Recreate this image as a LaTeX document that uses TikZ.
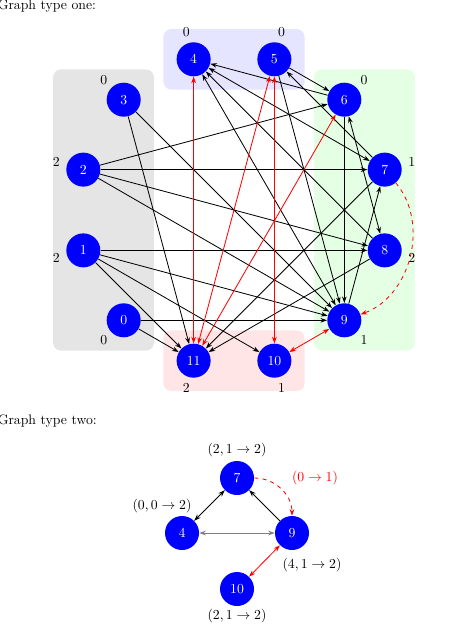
\documentclass[tikz,border=0pt]{standalone}
\usetikzlibrary{arrows.meta,fit,backgrounds}
\begin{document}
\begin{tikzpicture}[x=0.7278pt,y=0.7278pt,
  >={Stealth[length=4.8pt,width=3.4pt]},
  vtx/.style={circle,fill=blue,text=white,minimum size=24.75pt,inner sep=0pt},
  lbl/.style={inner sep=0pt},
  grp/.style={rounded corners=5.8pt,inner sep=9.46pt,draw=none},
  edge/.style={line width=0.6pt,black},
  redge/.style={line width=0.6pt,red},
  txt/.style={anchor=base west,inner sep=0pt}]
\useasboundingbox (0,0) rectangle (474,-629);
\node[txt] (t1) at (-2.5,-10) {Graph type one:};
\node[txt] (t2) at (-2.5,-424) {Graph type two:};
% graph one
\foreach \k/\l in {0/0,1/2,2/2,3/0,4/0,5/0,6/0,7/1,8/2,9/1,10/1,11/2} {
  \node[vtx] (n\k) at ({234+156*cos(225-30*\k)},{-210+156*sin(225-30*\k)}) {\k};
  \node[lbl] (l\k) at ({234+184*cos(225-30*\k)},{-210+184*sin(225-30*\k)}) {\l};
}
\begin{scope}[on background layer]
  \node[grp,fill=black!10,fit=(n0)(n1)(n2)(n3)] (g0) {};
  \node[grp,fill=blue!10,fit=(n4)(n5)] (g1) {};
  \node[grp,fill=green!10,fit=(n6)(n7)(n8)(n9)] (g2) {};
  \node[grp,fill=red!10,fit=(n10)(n11)] (g3) {};
\end{scope}
\foreach \a/\b in {0/9,0/11,1/8,1/9,1/10,1/11,2/6,2/7,2/8,2/9,3/9,3/11,
                   9/7,5/6,7/5,6/4,8/4,6/9,5/9,7/11,8/11}
  \draw[edge,->] (n\a) -- (n\b);
\foreach \a/\b in {4/7,4/9,6/8}
  \draw[edge,<->] (n\a) -- (n\b);
\foreach \a/\b in {4/11,5/10,5/11,6/11,9/10}
  \draw[redge,<->] (n\a) -- (n\b);
\draw[redge,dashed,->] (n7) to[bend left=55] (n9);
% graph two
\node[vtx] (m7) at (237,-478) {7};
\node[vtx] (m4) at (182,-533) {4};
\node[vtx] (m9) at (292,-533) {9};
\node[vtx] (m10) at (237,-589) {10};
\node[lbl] (k7) at (237,-450) {$(2,1\rightarrow 2)$};
\node[lbl] (k4) at (162,-506) {$(0,0\rightarrow 2)$};
\node[lbl] (k9) at (312,-565) {$(4,1\rightarrow 2)$};
\node[lbl] (k10) at (237,-616) {$(2,1\rightarrow 2)$};
\node[lbl,text=red] (k79) at (315,-478) {$(0\rightarrow 1)$};
\draw[edge,<->] (m4) -- (m7);
\draw[line width=0.6pt,gray,<->] (m4) -- (m9);
\draw[edge,->] (m9) -- (m7);
\draw[redge,<->] (m10) -- (m9);
\draw[redge,dashed,->] (m7) to[bend left=45] (m9);
\end{tikzpicture}
\end{document}
